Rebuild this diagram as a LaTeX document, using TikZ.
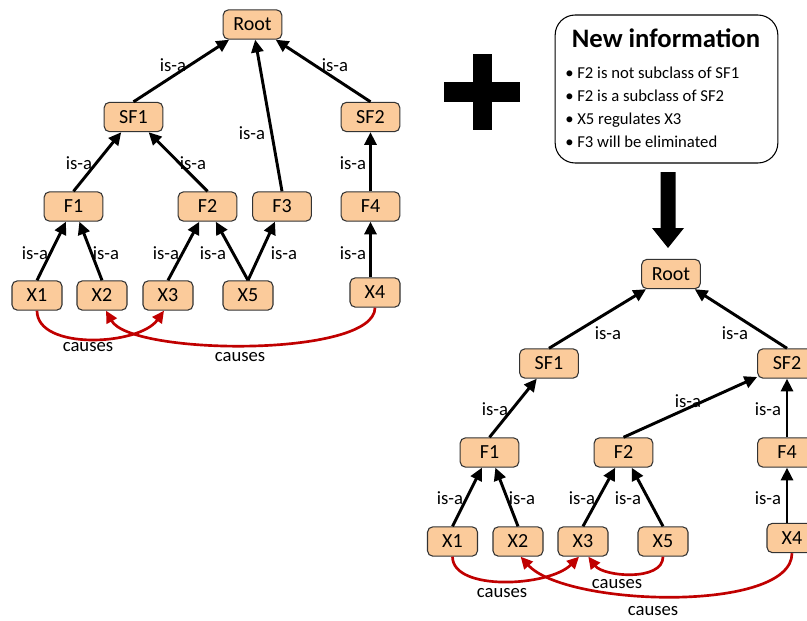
\documentclass[tikz,border=0pt]{standalone}
\usepackage{tikz}
\usetikzlibrary{arrows.meta}
\usepackage{fontspec}
\setmainfont{Carlito}
\usepackage{xcolor}

\definecolor{peach}{RGB}{251,203,155}
\definecolor{darkred}{RGB}{192,0,0}

\begin{document}
\begin{tikzpicture}[
    x={(0.75pt,0)}, y={(0,-0.75pt)},
    box/.style={rectangle, draw=black!80, line width=0.8pt, fill=peach, rounded corners=4pt, minimum width=44pt, minimum height=22pt, inner sep=0pt, font=\fontsize{15}{17}\selectfont},
    xbox/.style={box, minimum width=37.5pt},
    isa/.style={draw, line width=2.2pt, -{Triangle[length=9.5pt,width=9pt]}},
    cause/.style={draw=darkred, line width=2pt, -{Triangle[length=9pt,width=8.5pt]}},
    lbl/.style={font=\fontsize{14}{16}\selectfont, inner sep=1pt}
]

\clip (0,0) rectangle (807,621);

% ---------- old hierarchy ----------
\node[box] (oRoot) at (252.5,24.5) {Root};
\node[box] (oSF1) at (133.5,117) {SF1};
\node[box] (oSF2) at (370.5,117) {SF2};
\node[box] (oF1) at (73.5,206.5) {F1};
\node[box] (oF2) at (207.5,206.5) {F2};
\node[box] (oF3) at (282,206.5) {F3};
\node[box] (oF4) at (370.5,206.5) {F4};
\node[xbox] (oX1) at (37,295.5) {X1};
\node[xbox] (oX2) at (102,295.5) {X2};
\node[xbox] (oX3) at (168,295.5) {X3};
\node[xbox] (oX5) at (248,295.5) {X5};
\node[xbox] (oX4) at (375,292.5) {X4};

\foreach \a/\b in {oSF1/oRoot, oF3/oRoot, oSF2/oRoot, oF1/oSF1, oF2/oSF1, oF4/oSF2,
                   oX1/oF1, oX2/oF1, oX3/oF2, oX5/oF2, oX5/oF3} {
    \draw[isa] (\a.north) -- (\b);
}
\draw[isa] (oF4 |- oX4.north) -- (oF4);

\foreach \x/\y [count=\i] in {173/65, 252/133, 335/65, 79/163, 193/163, 353/163,
                              35/253, 106/253, 166/253, 213/253, 284/253, 353/253} {
    \node[lbl] (oisa\i) at (\x,\y) {is-a};
}

% causes
\draw[cause] (oX1.south) .. controls +(0,40) and +(-25,35) .. ([xshift=-3pt]oX3.south);
\draw[cause] (oX4.south) .. controls +(0,50) and +(25,45) .. ([xshift=3pt]oX2.south);
\node[lbl] (ocause1) at (88,347) {causes};
\node[lbl] (ocause2) at (240,357) {causes};

% ---------- plus and new info ----------
\fill (473,54) rectangle (492,130);
\fill (444,82) rectangle (520,102);

\node[draw, line width=0.8pt, rounded corners=15pt, minimum width=167pt, minimum height=111pt] (info) at (666.5,89) {};
\node[font=\fontsize{20}{24}\selectfont\bfseries] (infotitle) at (666,38) {New information};
\node[anchor=west, align=left, inner sep=0pt, font=\fontsize{12.5}{17.25}\selectfont] (infolist) at (565,107.5) {
    \textbullet\ F2 is not subclass of SF1\\
    \textbullet\ F2 is a subclass of SF2\\
    \textbullet\ X5 regulates X3\\
    \textbullet\ F3 will be eliminated
};

% block arrow
\fill (660.5,172) -- (675.5,172) -- (675.5,228) -- (684,228) -- (668,248) -- (652,228) -- (660.5,228) -- cycle;

% ---------- new hierarchy ----------
\node[box] (nRoot) at (671,274) {Root};
\node[box] (nSF1) at (549,363.5) {SF1};
\node[box] (nSF2) at (787,363.5) {SF2};
\node[box] (nF1) at (489.5,452.5) {F1};
\node[box] (nF2) at (623.5,452.5) {F2};
\node[box] (nF4) at (787,452.5) {F4};
\node[xbox] (nX1) at (452.5,541.5) {X1};
\node[xbox] (nX2) at (518,541.5) {X2};
\node[xbox] (nX3) at (583,541.5) {X3};
\node[xbox] (nX5) at (663,541.5) {X5};
\node[xbox] (nX4) at (792,538) {X4};

\foreach \a/\b in {nSF1/nRoot, nSF2/nRoot, nF1/nSF1, nF2/nSF2, nF4/nSF2,
                   nX1/nF1, nX2/nF1, nX3/nF2, nX5/nF2} {
    \draw[isa] (\a.north) -- (\b);
}
\draw[isa] (nF4 |- nX4.north) -- (nF4);

\foreach \x/\y [count=\i] in {608/333, 735/333, 495/409, 688/401, 768/409,
                              450/498, 522/498, 582/498, 628/498, 768/498} {
    \node[lbl] (nisa\i) at (\x,\y) {is-a};
}

% causes
\draw[cause] (nX1.south) .. controls +(0,35) and +(-30,30) .. ([xshift=-3pt]nX3.south);
\draw[cause] (nX5.south) .. controls +(0,25) and +(15,20) .. ([xshift=4pt]nX3.south);
\draw[cause] (nX4.south) .. controls +(0,60) and +(45,50) .. ([xshift=2pt]nX2.south);
\node[lbl] (ncause1) at (502,593) {causes};
\node[lbl] (ncause2) at (617,584) {causes};
\node[lbl] (ncause3) at (653,611) {causes};

\end{tikzpicture}
\end{document}
